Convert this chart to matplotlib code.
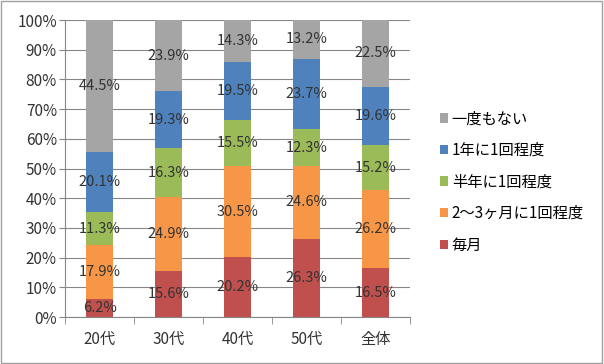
import matplotlib.pyplot as plt
import numpy as np

plt.rcParams['font.family'] = ['Noto Sans CJK JP', 'DejaVu Sans']

categories = ['20代', '30代', '40代', '50代', '全体']
series_names = ['毎月', '2～3ヶ月に1回程度', '半年に1回程度', '1年に1回程度', '一度もない']
monthly = [6.2, 15.6, 20.2, 26.3, 16.5]
every_2_3_months = [17.9, 24.9, 30.5, 24.6, 26.2]
half_year = [11.3, 16.3, 15.5, 12.3, 15.2]
once_a_year = [20.1, 19.3, 19.5, 23.7, 19.6]
never = [44.5, 23.9, 14.3, 13.2, 22.5]
colors = ['#C0504D', '#F79646', '#9BBB59', '#4F81BD', '#A5A5A5']

values = [monthly, every_2_3_months, half_year, once_a_year, never]

fig = plt.figure(figsize=(6.04, 3.64), dpi=100)
ax = fig.add_axes([0.108, 0.129, 0.571, 0.816])

x = np.arange(len(categories))
bottom = np.zeros(len(categories))
handles = []
for name, vals, col in zip(series_names, values, colors):
    vals = np.array(vals)
    bars = ax.bar(x, vals, 0.39, bottom=bottom, color=col, label=name, zorder=3)
    handles.append(bars)
    for xi, v, b in zip(x, vals, bottom):
        ax.text(xi, b + v / 2, f'{v:.1f}%', ha='center', va='center',
                fontsize=10.5, color='#333333', zorder=4)
    bottom += vals

ax.set_xlim(-0.5, len(categories) - 0.5)
ax.set_ylim(0, 100)
ax.set_yticks(range(0, 101, 10))
ax.set_yticklabels([f'{t}%' for t in range(0, 101, 10)], fontsize=11, color='#333333')
ax.yaxis.grid(True, color='#868686', linewidth=0.8, zorder=0)
ax.set_xticks(x)
ax.set_xticklabels(categories, fontsize=11, color='#333333')
ax.tick_params(axis='x', length=0, pad=10)
ax.tick_params(axis='y', length=4, color='#868686', pad=2)
ax.set_xticks(np.arange(-0.5, len(categories), 1), minor=True)
ax.tick_params(axis='x', which='minor', length=5, color='#868686')
for s in ['top', 'right']:
    ax.spines[s].set_visible(False)
ax.spines['left'].set_color('#868686')
ax.spines['bottom'].set_color('#868686')

fig.legend(handles[::-1], series_names[::-1], loc='center left',
           bbox_to_anchor=(0.705, 0.50), frameon=False, fontsize=11,
           handlelength=0.55, handleheight=0.55, handletextpad=0.25, labelspacing=0.95)

fig.add_artist(plt.Rectangle((0.002, 0.003), 0.995, 0.993, transform=fig.transFigure,
                             fill=False, edgecolor='#A0A0A0', linewidth=1))

fig.savefig('out.png', dpi=100)
